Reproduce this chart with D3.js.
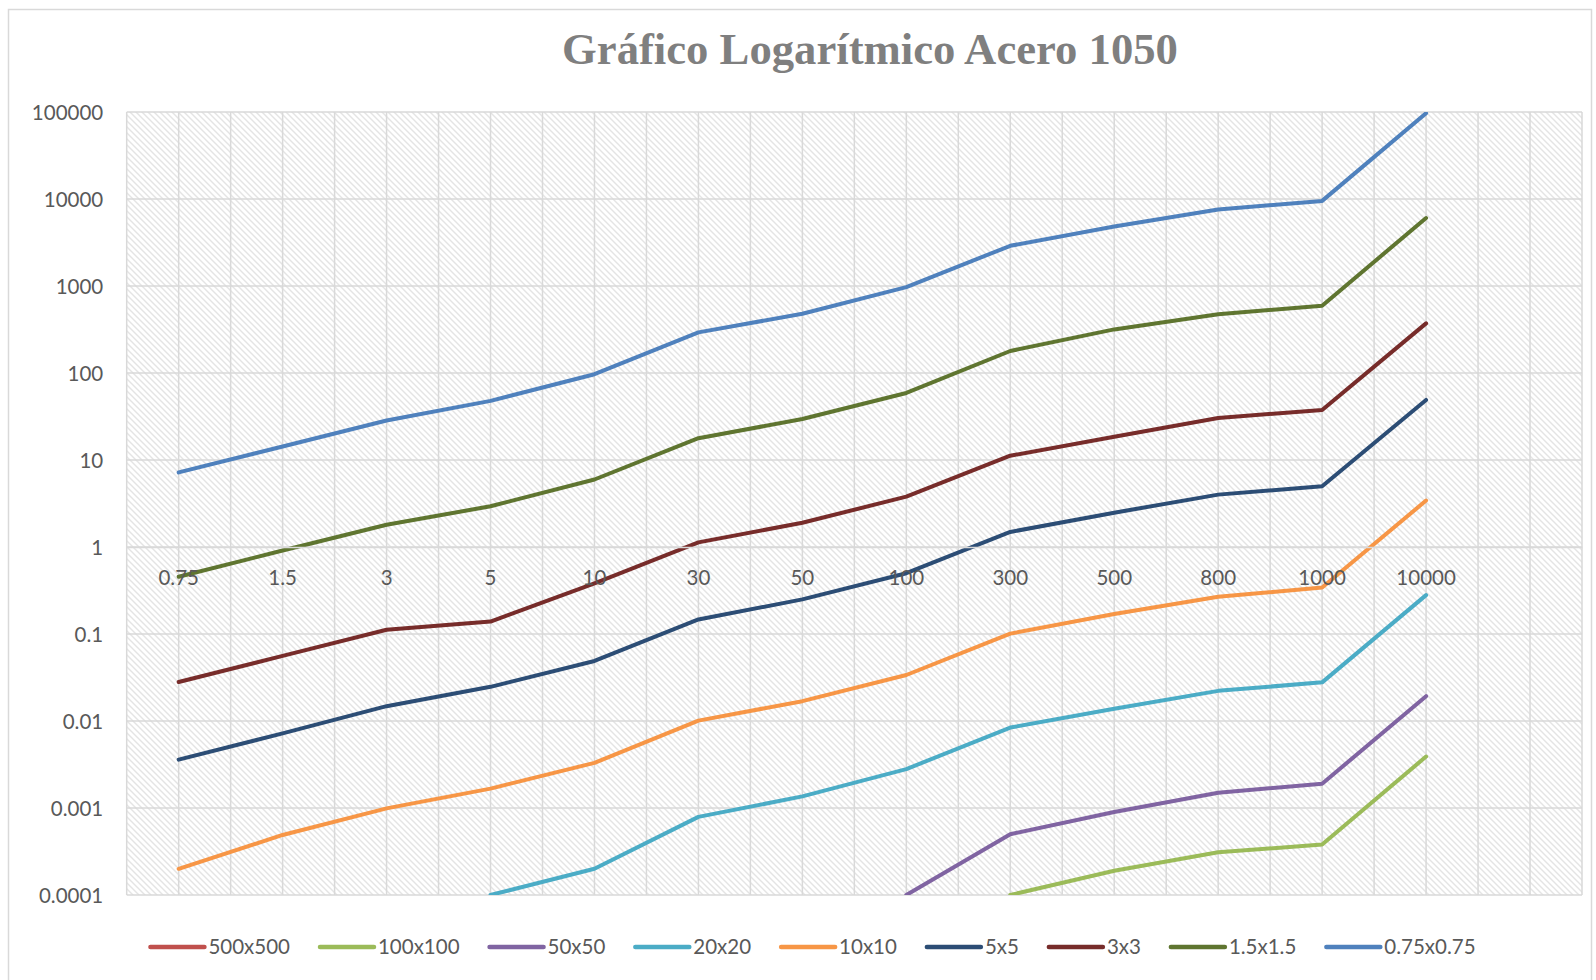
<!DOCTYPE html>
<html>
<head>
<meta charset="utf-8">
<script src="https://cdn.jsdelivr.net/npm/d3@7"></script>
<style>
  html, body { margin: 0; padding: 0; background: #ffffff; }
  svg { display: block; }
</style>
</head>
<body>
<svg id="chart" width="1596" height="980"></svg>
<script>
// Ensayo logarítmico, acero 1050: one series per probe size
const categories = ["0.75", "1.5", "3", "5", "10", "30", "50", "100", "300", "500", "800", "1000", "10000"];

const s500x500 = [null, null, null, null, null, null, null, null, null, null, null, null, null];
const s100x100 = [null, null, null, null, null, null, null, null, 0.0001, 0.00019, 0.00031, 0.00038, 0.0039];
const s50x50   = [null, null, null, null, null, null, null, 0.0001, 0.0005, 0.0009, 0.0015, 0.0019, 0.0193];
const s20x20   = [null, null, null, 0.0001, 0.0002, 0.00079, 0.00136, 0.0028, 0.0084, 0.0138, 0.0222, 0.0278, 0.28];
const s10x10   = [0.0002, 0.00049, 0.00099, 0.00167, 0.0033, 0.0101, 0.0169, 0.0338, 0.101, 0.17, 0.268, 0.342, 3.42];
const s5x5     = [0.0036, 0.0072, 0.0148, 0.0247, 0.049, 0.147, 0.25, 0.5, 1.49, 2.48, 4.0, 5.0, 49];
const s3x3     = [0.0281, 0.056, 0.112, 0.139, 0.383, 1.13, 1.9, 3.79, 11.2, 18.5, 30.4, 37.6, 372];
const s15x15   = [0.455, 0.91, 1.8, 2.94, 5.97, 17.8, 29.6, 59, 179, 317, 473, 594, 6040];
const s075x075 = [7.2, 14.3, 28.4, 47.8, 96.9, 293, 480, 972, 2900, 4820, 7590, 9510, 96800];

const seriesNames  = ["500x500", "100x100", "50x50", "20x20", "10x10", "5x5", "3x3", "1.5x1.5", "0.75x0.75"];
const seriesValues = [s500x500, s100x100, s50x50, s20x20, s10x10, s5x5, s3x3, s15x15, s075x075];
const seriesColors = ["#C0504D", "#9BBB59", "#8064A2", "#4BACC6", "#F79646", "#2C4D75", "#772C2A", "#5F7530", "#4F81BD"];

const yTickValues = [0.0001, 0.001, 0.01, 0.1, 1, 10, 100, 1000, 10000, 100000];
const yTickLabels = ["0.0001", "0.001", "0.01", "0.1", "1", "10", "100", "1000", "10000", "100000"];

const titleText = "Gráfico Logarítmico Acero 1050";

// ---- layout ----
const W = 1596, H = 980;
const plot = { left: 126.7, right: 1582, top: 112, bottom: 895 };
const gridColor = "#d9d9d9";
const textColor = "#595959";
const labelFont = "Lato, 'Open Sans', sans-serif";

const svg = d3.select("#chart");

// chart area border
svg.append("rect")
  .attr("x", 8.5).attr("y", 9.5)
  .attr("width", 1583).attr("height", 1000)
  .attr("fill", "#ffffff")
  .attr("stroke", "#d9d9d9").attr("stroke-width", 1.5);

// diagonal hatch fill of the plot area
const defs = svg.append("defs");
const pat = defs.append("pattern")
  .attr("id", "hatch")
  .attr("patternUnits", "userSpaceOnUse")
  .attr("width", 6).attr("height", 6);
pat.append("rect").attr("width", 6).attr("height", 6).attr("fill", "#ffffff");
pat.append("path")
  .attr("d", "M0,0 L6,6 M-3,3 L3,9 M3,-3 L9,3")
  .attr("stroke", "#e4e4e4").attr("stroke-width", 1.4);

defs.append("clipPath").attr("id", "plotClip")
  .append("rect")
  .attr("x", plot.left).attr("y", plot.top)
  .attr("width", plot.right - plot.left).attr("height", plot.bottom - plot.top);

svg.append("rect")
  .attr("x", plot.left).attr("y", plot.top)
  .attr("width", plot.right - plot.left).attr("height", plot.bottom - plot.top)
  .attr("fill", "url(#hatch)");

// scales: one extra empty slot after the last category
const slots = d3.range(categories.length + 1);
const x = d3.scaleBand().domain(slots).range([plot.left, plot.right]).paddingInner(0).paddingOuter(0);
const xc = i => x(i) + x.bandwidth() / 2;
const y = d3.scaleLog().domain([1e-4, 1e5]).range([plot.bottom, plot.top]);

// gridlines
const grid = svg.append("g").attr("stroke", gridColor).attr("stroke-width", 1.5);
const halfSteps = d3.range(slots.length * 2 + 1);
grid.selectAll("line.v").data(halfSteps).join("line")
  .attr("class", "v")
  .attr("x1", k => plot.left + k * x.bandwidth() / 2)
  .attr("x2", k => plot.left + k * x.bandwidth() / 2)
  .attr("y1", plot.top).attr("y2", plot.bottom);
grid.selectAll("line.h").data(yTickValues).join("line")
  .attr("class", "h")
  .attr("x1", plot.left).attr("x2", plot.right)
  .attr("y1", d => y(d)).attr("y2", d => y(d));

// series lines
const line = d3.line()
  .defined(d => d.v != null)
  .x(d => xc(d.i))
  .y(d => y(d.v));

const lines = svg.append("g").attr("clip-path", "url(#plotClip)");
seriesValues.forEach((vals, s) => {
  const pts = vals.map((v, i) => ({ i, v }));
  if (!pts.some(p => p.v != null)) return;
  lines.append("path")
    .attr("d", line(pts))
    .attr("fill", "none")
    .attr("stroke", seriesColors[s])
    .attr("stroke-width", 4)
    .attr("stroke-linejoin", "round")
    .attr("stroke-linecap", "round");
});

// y axis labels
const yAxis = svg.append("g")
  .attr("transform", `translate(${plot.left},0)`)
  .call(d3.axisLeft(y).tickValues(yTickValues)
    .tickFormat((d, i) => yTickLabels[i]).tickSize(0).tickPadding(23.5));
yAxis.select(".domain").remove();
yAxis.selectAll("text")
  .attr("font-family", labelFont).attr("font-size", 20.5)
  .attr("fill", textColor).attr("dy", "0.35em");

// x axis crossing at 1
const xAxis = svg.append("g")
  .attr("transform", `translate(0,${y(1)})`)
  .call(d3.axisBottom(x).tickValues(d3.range(categories.length))
    .tickFormat(i => categories[i]).tickSize(0));
xAxis.select(".domain").attr("stroke", gridColor).attr("stroke-width", 1.5);
xAxis.selectAll("text")
  .attr("font-family", labelFont).attr("font-size", 20.5)
  .attr("fill", textColor)
  .attr("y", 31).attr("dy", "0.35em");

// title, sized to its measured width
const title = svg.append("text")
  .attr("x", 870).attr("y", 64)
  .attr("text-anchor", "middle")
  .attr("font-family", "'Liberation Serif', 'DejaVu Serif', serif")
  .attr("font-weight", "bold")
  .attr("font-size", 42)
  .attr("fill", "#7f7f7f")
  .text(titleText);
const tw = title.node().getComputedTextLength();
title.attr("font-size", 42 * 616 / tw);

// legend
const legend = svg.append("g");
let cx = 0;
seriesNames.forEach((name, s) => {
  const g = legend.append("g");
  g.append("line")
    .attr("x1", 0).attr("x2", 54).attr("y1", 0).attr("y2", 0)
    .attr("stroke", seriesColors[s]).attr("stroke-width", 4.5)
    .attr("stroke-linecap", "round");
  const t = g.append("text")
    .attr("x", 58).attr("y", 0).attr("dy", "0.35em")
    .attr("font-family", labelFont).attr("font-size", 20.5)
    .attr("fill", textColor).text(name);
  const w = 58 + t.node().getComputedTextLength();
  g.attr("transform", `translate(${cx},0)`);
  cx += w + 30;
});
const legendWidth = cx - 30;
legend.attr("transform", `translate(${813 - legendWidth / 2},947)`);
</script>
</body>
</html>
